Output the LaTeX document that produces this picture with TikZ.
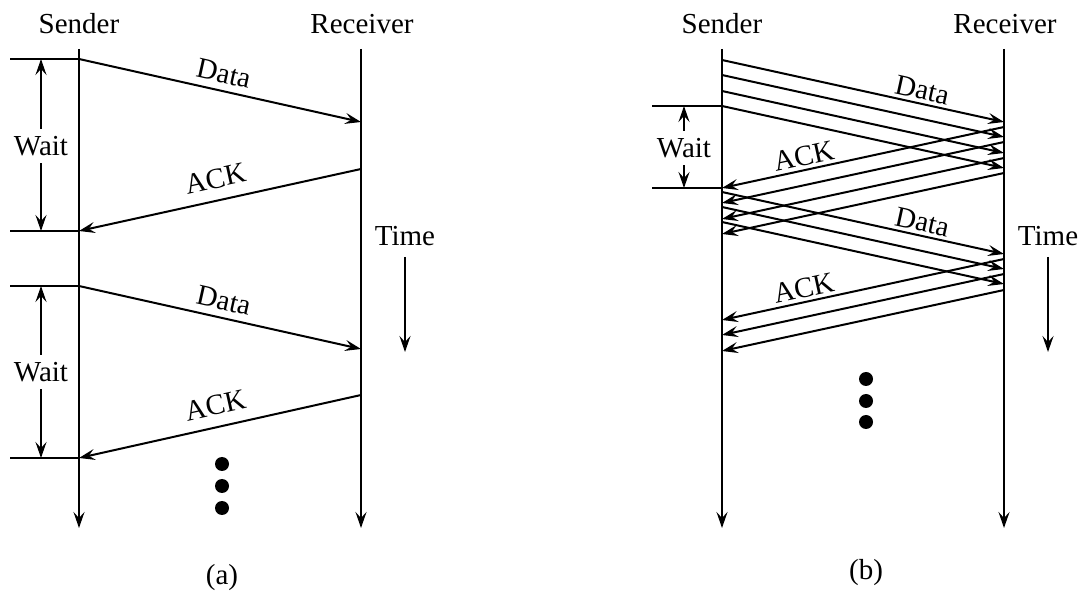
\documentclass[tikz,border=0pt]{standalone}
\usepackage{fontspec}
\setmainfont{Liberation Serif}
\usetikzlibrary{arrows.meta}

\begin{document}
\begin{tikzpicture}[
  x=0.5pt, y=-0.5pt,
  font=\fontsize{14.5}{17}\selectfont,
  line width=1pt,
  tip/.style={-{Stealth[length=8pt, width=5.5pt, inset=3pt]}},
  msg/.style={tip},
  lbl/.style={sloped, above, font=\fontsize{14.5}{17}\selectfont},
  dot/.style={circle, fill, inner sep=0pt, minimum size=7pt}
]
  \useasboundingbox (0,0) rectangle (1086,592);

  % (a) stop and wait
  \node (sa) at (79,24) {Sender};
  \node (ra) at (362,24) {Receiver};
  \coordinate (satop) at (79,49);
  \coordinate (sabot) at (79,528);
  \coordinate (ratop) at (361,49);
  \coordinate (rabot) at (361,528);
  \draw[tip] (satop) -- (sabot);
  \draw[tip] (ratop) -- (rabot);

  \coordinate (ad1) at (79,59);
  \coordinate (adr1) at (361,122);
  \coordinate (aa1) at (361,169);
  \coordinate (aas1) at (79,231);
  \coordinate (ad2) at (79,286);
  \coordinate (adr2) at (361,349);
  \coordinate (aa2) at (361,395);
  \coordinate (aas2) at (79,458);

  \draw[msg] (ad1) -- node[lbl] {Data} (adr1);
  \draw[msg] (aa1) -- node[lbl, inner sep=5.5pt] {ACK} (aas1);
  \draw[msg] (ad2) -- node[lbl] {Data} (adr2);
  \draw[msg] (aa2) -- node[lbl, inner sep=5.5pt] {ACK} (aas2);

  \draw (ad1) -- ++(-69,0);
  \draw (aas1) -- ++(-69,0);
  \draw (ad2) -- ++(-69,0);
  \draw (aas2) -- ++(-69,0);

  \node (wa1) at (41,146) {Wait};
  \node (wa2) at (41,372) {Wait};
  \draw[tip] (wa1.north) -- (wa1.north |- ad1);
  \draw[tip] (wa1.south) -- (wa1.south |- aas1);
  \draw[tip] (wa2.north) -- (wa2.north |- ad2);
  \draw[tip] (wa2.south) -- (wa2.south |- aas2);

  \node (tma) at (405,236) {Time};
  \coordinate (tma1) at (405,257);
  \coordinate (tma2) at (405,352);
  \draw[tip] (tma1) -- (tma2);

  \node[dot] (dta1) at (222,464) {};
  \node[dot] (dta2) at (222,486) {};
  \node[dot] (dta3) at (222,508) {};
  \node (capa) at (222,578) {(a)};

  % (b) pipelined
  \node (sb) at (722,24) {Sender};
  \node (rb) at (1005,24) {Receiver};
  \coordinate (sbtop) at (722,49);
  \coordinate (sbbot) at (722,528);
  \coordinate (rbtop) at (1004,49);
  \coordinate (rbbot) at (1004,528);
  \draw[tip] (sbtop) -- (sbbot);
  \draw[tip] (rbtop) -- (rbbot);

  \foreach \k/\y in {1/60, 2/75, 3/91, 4/106} {
    \coordinate (bd\k) at (722,\y);
    \coordinate (bdr\k) at (1004,\y+62);
    \draw[msg] (bd\k) -- (bdr\k);
  }
  \foreach \k/\y in {1/127, 2/142, 3/158, 4/173} {
    \coordinate (ba\k) at (1004,\y);
    \coordinate (bas\k) at (722,\y+61);
    \draw[msg] (ba\k) -- (bas\k);
  }
  \foreach \k/\y in {1/192, 2/207, 3/222} {
    \coordinate (be\k) at (722,\y);
    \coordinate (ber\k) at (1004,\y+62);
    \draw[msg] (be\k) -- (ber\k);
  }
  \foreach \k/\y in {1/259, 2/274, 3/290} {
    \coordinate (bf\k) at (1004,\y);
    \coordinate (bfs\k) at (722,\y+61);
    \draw[msg] (bf\k) -- (bfs\k);
  }
  \path (bd1) -- node[lbl, pos=0.7, inner sep=1.5pt] {Data} (bdr1);
  \path (ba1) -- node[lbl, pos=0.7, inner sep=1.5pt] {ACK} (bas1);
  \path (be1) -- node[lbl, pos=0.7, inner sep=1.5pt] {Data} (ber1);
  \path (bf1) -- node[lbl, pos=0.7, inner sep=1.5pt] {ACK} (bfs1);

  \draw (bd4) -- ++(-70,0);
  \draw (bas1) -- ++(-70,0);
  \node (wb) at (684,148) {Wait};
  \draw[tip] (wb.north) -- (wb.north |- bd4);
  \draw[tip] (wb.south) -- (wb.south |- bas1);

  \node (tmb) at (1048,236) {Time};
  \coordinate (tmb1) at (1048,257);
  \coordinate (tmb2) at (1048,352);
  \draw[tip] (tmb1) -- (tmb2);

  \node[dot] (dtb1) at (866,379) {};
  \node[dot] (dtb2) at (866,401) {};
  \node[dot] (dtb3) at (866,422) {};
  \node (capb) at (866,573) {(b)};
\end{tikzpicture}
\end{document}
